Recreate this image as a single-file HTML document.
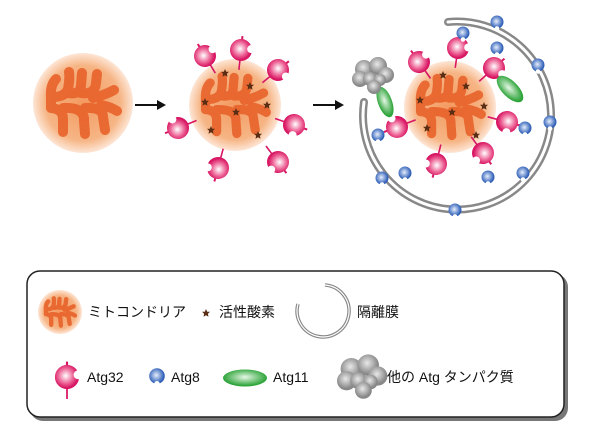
<!DOCTYPE html>
<html><head><meta charset="utf-8"><style>
body{margin:0;background:#fff;width:600px;height:445px;overflow:hidden}
svg{display:block}
text{font-family:"Liberation Sans","Noto Sans CJK JP",sans-serif;font-size:14px;fill:#111}
</style></head><body>
<svg width="600" height="445" viewBox="0 0 600 445">
<defs>
<radialGradient id="mg"><stop offset="0" stop-color="#f39a60"/><stop offset="0.75" stop-color="#f6b585"/><stop offset="1" stop-color="#fde6d6"/></radialGradient>
<radialGradient id="pg" cx="0.45" cy="0.45"><stop offset="0" stop-color="#fff"/><stop offset="0.6" stop-color="#ee6a9a"/><stop offset="1" stop-color="#d81663"/></radialGradient>
<radialGradient id="bg" cx="0.45" cy="0.45"><stop offset="0" stop-color="#e6eefc"/><stop offset="1" stop-color="#2f5fb8"/></radialGradient>
<radialGradient id="gg" cx="0.5" cy="0.45"><stop offset="0" stop-color="#e6f7e6"/><stop offset="1" stop-color="#2ea43a"/></radialGradient>
<radialGradient id="sg" cx="0.45" cy="0.4"><stop offset="0" stop-color="#e8e8e8"/><stop offset="1" stop-color="#888"/></radialGradient>
<g id="mito">
<circle r="50" fill="url(#mg)"/>
<g fill="none" stroke="#e8622a" stroke-width="10" stroke-linecap="round" stroke-linejoin="round" opacity=".9">
<path d="M-32,-5 Q-33,-18 -27,-24 M-30,-6 Q-18,-6 -15,-14 Q-13,-25 -14,-31 M-15,-10 Q-2,-8 -2,-18 L-1,-30 M-2,-10 Q12,-8 13,-20 L14,-29 M10,-5 Q22,-8 31,-13 M-32,5 L-32,-5 M-32,5 Q-20,6 -20,16 L-20,29 M-20,5 Q2,4 1,18 L2,31 M2,5 Q20,4 20,14 L22,27 M18,2 Q28,4 34,8"/>
</g>
</g>
<g id="a32">
<line x1="0" y1="9" x2="0" y2="20" stroke="#d81663" stroke-width="1.6"/>
<path d="M0,-10 L0,-14" stroke="#d81663" stroke-width="2"/>
<circle r="11" fill="url(#pg)"/>
<circle cx="10" cy="-2" r="4" fill="#fff"/>
</g>
<g id="a8"><circle r="6.5" fill="url(#bg)"/><circle cx="0" cy="6.5" r="2.3" fill="#fff"/></g>
<g id="st"><path d="M0,-4 L1.2,-1.3 L4,-1.2 L1.9,0.8 L2.5,3.8 L0,2.2 L-2.5,3.8 L-1.9,0.8 L-4,-1.2 L-1.2,-1.3Z" fill="#5a2d14"/></g>
<g id="gray">
<circle cx="-8" cy="-6" r="9" fill="url(#sg)"/><circle cx="6" cy="-9" r="9" fill="url(#sg)"/><circle cx="14" cy="0" r="8" fill="url(#sg)"/>
<circle cx="-12" cy="4" r="8" fill="url(#sg)"/><circle cx="-2" cy="4" r="7" fill="url(#sg)"/><circle cx="8" cy="5" r="6" fill="url(#sg)"/><circle cx="2" cy="12" r="7" fill="url(#sg)"/>
</g>
</defs>

<!-- stage 1 -->
<use href="#mito" x="83" y="103"/>
<path d="M135,105 H160" stroke="#111" stroke-width="2"/><path d="M166,105 L157,100 L157,110Z" fill="#111"/>
<!-- stage 2 -->
<use href="#mito" transform="translate(235,105) scale(0.92)"/>
<use href="#a32" transform="translate(205,56) rotate(-31)"/>
<use href="#a32" transform="translate(241,50) rotate(6)"/>
<use href="#a32" transform="translate(278,70) rotate(51)"/>
<use href="#a32" transform="translate(294,125) rotate(109)"/>
<use href="#a32" transform="translate(278,162) rotate(143)"/>
<use href="#a32" transform="translate(218,168) rotate(-165)"/>
<use href="#a32" transform="translate(178,128) rotate(-112)"/>
<use href="#st" x="225" y="73"/><use href="#st" x="250" y="86"/><use href="#st" x="205" y="102"/><use href="#st" x="236" y="112"/><use href="#st" x="267" y="105"/><use href="#st" x="211" y="130"/><use href="#st" x="258" y="135"/>
<path d="M313,105 H338" stroke="#111" stroke-width="2"/><path d="M344,105 L335,100 L335,110Z" fill="#111"/>
<!-- stage 3 membrane -->
<path d="M448,22 A94,94 0 1 1 364,102" fill="none" stroke="#888" stroke-width="8" stroke-linecap="round"/>
<path d="M448,22 A94,94 0 1 1 364,102" fill="none" stroke="#fff" stroke-width="3" stroke-linecap="round"/>
<use href="#mito" transform="translate(450,107) scale(0.92)"/>
<use href="#a32" transform="translate(419,62) rotate(-35)"/>
<use href="#a32" transform="translate(458,48) rotate(8)"/>
<use href="#a32" transform="translate(494,68) rotate(48)"/>
<use href="#a32" transform="translate(507,122) rotate(105)"/>
<use href="#a32" transform="translate(483,153) rotate(144)"/>
<use href="#a32" transform="translate(436,164) rotate(-166)"/>
<use href="#a32" transform="translate(397,127) rotate(-111)"/>
<ellipse cx="510" cy="89" rx="8" ry="17" transform="rotate(-45 510 89)" fill="url(#gg)"/>
<ellipse cx="385" cy="102" rx="7" ry="16" transform="rotate(-20 385 102)" fill="url(#gg)"/>
<use href="#gray" x="372" y="75"/>
<use href="#st" x="443" y="75"/><use href="#st" x="466" y="86"/><use href="#st" x="420" y="100"/><use href="#st" x="452" y="112"/><use href="#st" x="484" y="106"/><use href="#st" x="427" y="128"/><use href="#st" x="476" y="135"/>
<use href="#a8" x="497" y="22"/><use href="#a8" x="463" y="33"/><use href="#a8" x="497" y="48"/><use href="#a8" x="538" y="65"/><use href="#a8" x="550" y="122"/><use href="#a8" x="525" y="128"/><use href="#a8" x="523" y="173"/><use href="#a8" x="488" y="177"/><use href="#a8" x="405" y="173"/><use href="#a8" x="382" y="178"/><use href="#a8" x="378" y="135"/><use href="#a8" x="455" y="210"/>

<!-- legend -->
<rect x="30" y="274" width="538" height="147" rx="13" fill="#777"/>
<rect x="27" y="271" width="537" height="146" rx="13" fill="#fff" stroke="#222" stroke-width="1.5"/>
<use href="#mito" transform="translate(60,312) scale(0.44)"/>
<text x="88" y="317">ミトコンドリア</text>
<use href="#st" x="206" y="313"/>
<text x="219" y="317">活性酸素</text>
<path d="M325,285 A26,26 0 1 1 298,304" fill="none" stroke="#888" stroke-width="3.5"/>
<path d="M325,285 A26,26 0 1 1 298,304" fill="none" stroke="#fff" stroke-width="1.2"/>
<text x="357" y="317">隔離膜</text>
<use href="#a32" transform="translate(67,377) scale(1.1)"/>
<text x="87" y="382">Atg32</text>
<use href="#a8" transform="translate(157,376) scale(1.2)"/>
<text x="171" y="382">Atg8</text>
<ellipse cx="245" cy="378" rx="22" ry="8.5" fill="url(#gg)"/>
<text x="273" y="382">Atg11</text>
<use href="#gray" transform="translate(361,376) scale(1.2)"/>
<text x="387" y="382">他の Atg タンパク質</text>
</svg>
</body></html>
